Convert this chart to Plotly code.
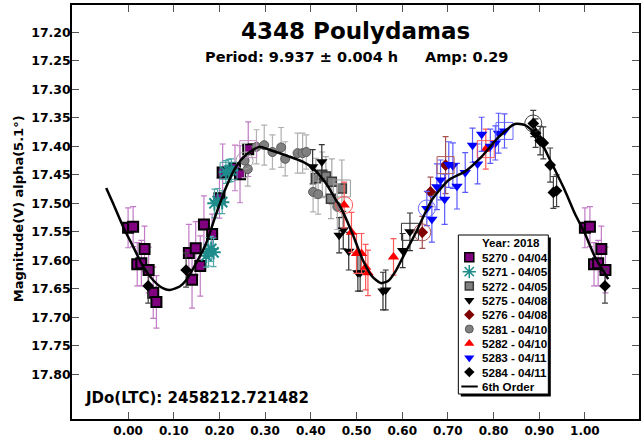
import plotly.graph_objects as go

# ---------------- data ----------------
TITLE = "4348 Poulydamas"
PERIOD_TXT = "Period: 9.937 ± 0.004 h"
AMP_TXT = "Amp: 0.29"
JD_TXT = "JDo(LTC): 2458212.721482"
Y_TITLE = "Magnitude(V) alpha(5.1°)"
LEGEND_TITLE = "Year: 2018"
FIT_NAME = "6th Order"

SERIES_NAMES = ["5270 - 04/04", "5271 - 04/05", "5272 - 04/05", "5275 - 04/08",
                "5276 - 04/08", "5281 - 04/10", "5282 - 04/10", "5283 - 04/11",
                "5284 - 04/11"]

PH_5270 = [0.000, 0.011, 0.020, 0.029, 0.036, 0.045, 0.055, 0.062, 0.133, 0.140, 0.148,
           0.158, 0.166, 0.184, 0.200, 0.207, 0.234, 0.245, 0.263,
           1.000, 1.011, 1.020, 1.029, 1.036, 1.045]
MAG_5270 = [17.543, 17.541, 17.607, 17.605, 17.580, 17.617, 17.657, 17.673, 17.587, 17.634,
            17.579, 17.610, 17.537, 17.554, 17.491, 17.446, 17.438, 17.449, 17.405,
            17.543, 17.541, 17.607, 17.605, 17.580, 17.617]
ERR_5270 = [0.035, 0.035, 0.038, 0.040, 0.040, 0.040, 0.045, 0.046, 0.050, 0.050, 0.047,
            0.053, 0.050, 0.035, 0.035, 0.050, 0.040, 0.050, 0.048,
            0.035, 0.035, 0.038, 0.040, 0.040, 0.040]

PH_5271 = [0.171, 0.176, 0.182, 0.187, 0.189, 0.196, 0.206, 0.214, 0.220, 0.226]
MAG_5271 = [17.592, 17.585, 17.580, 17.586, 17.500, 17.496, 17.498, 17.445, 17.443, 17.442]
ERR_5271 = [0.020, 0.025, 0.022, 0.025, 0.025, 0.022, 0.020, 0.020, 0.020, 0.020]

PH_5272 = [0.411, 0.425, 0.433, 0.444, 0.446, 0.468]
MAG_5272 = [17.456, 17.450, 17.453, 17.492, 17.462, 17.474]
ERR_5272 = [0.035, 0.040, 0.035, 0.035, 0.040, 0.050]

PH_5275 = [0.404, 0.424, 0.462, 0.471, 0.483, 0.503, 0.508, 0.558, 0.564, 0.601, 0.617]
MAG_5275 = [17.436, 17.427, 17.556, 17.547, 17.584, 17.622, 17.622, 17.654, 17.652, 17.583, 17.550]
ERR_5275 = [0.030, 0.030, 0.031, 0.033, 0.033, 0.032, 0.032, 0.033, 0.035, 0.030, 0.033]

PH_5276 = [0.644, 0.662, 0.695]
MAG_5276 = [17.551, 17.480, 17.433]
ERR_5276 = [0.028, 0.026, 0.050]

PH_5281 = [0.255, 0.262, 0.281, 0.298, 0.316, 0.335, 0.344, 0.371, 0.382, 0.390, 0.405, 0.416, 0.458]
MAG_5281 = [17.425, 17.440, 17.401, 17.398, 17.410, 17.402, 17.422, 17.412, 17.412, 17.410,
            17.480, 17.484, 17.506]
ERR_5281 = [0.030, 0.030, 0.030, 0.035, 0.030, 0.035, 0.030, 0.035, 0.035, 0.030, 0.035, 0.035, 0.040]

PH_5282 = [0.473, 0.489, 0.500, 0.511, 0.520, 0.525, 0.581, 0.783]
MAG_5282 = [17.503, 17.551, 17.588, 17.588, 17.612, 17.622, 17.594, 17.405]
ERR_5282 = [0.040, 0.035, 0.035, 0.035, 0.040, 0.040, 0.032, 0.035]

PH_5283 = [0.654, 0.665, 0.676, 0.684, 0.693, 0.702, 0.711, 0.720, 0.738, 0.754, 0.765,
           0.774, 0.793, 0.804, 0.811, 0.824]
MAG_5283 = [17.509, 17.528, 17.471, 17.459, 17.493, 17.432, 17.434, 17.470, 17.446, 17.398,
            17.431, 17.379, 17.400, 17.394, 17.377, 17.373]
ERR_5283 = [0.030, 0.040, 0.040, 0.035, 0.044, 0.040, 0.040, 0.040, 0.035, 0.030, 0.035,
            0.030, 0.030, 0.030, 0.035, 0.030]

PH_5284 = [0.044, 0.127, 0.887, 0.892, 0.902, 0.909, 0.924, 0.931, 0.938, 1.044]
MAG_5284 = [17.645, 17.617, 17.360, 17.377, 17.390, 17.394, 17.433, 17.481, 17.478, 17.645]
ERR_5284 = [0.030, 0.030, 0.023, 0.025, 0.025, 0.028, 0.030, 0.028, 0.028, 0.030]

# open rings drawn around some points (series index -> point index)
RING_CIRCLE = {4: 0, 5: 0, 6: 0, 7: 0, 8: 2}
RING_SQUARE = {0: 18, 1: 8, 2: 5, 3: 10, 4: 2, 6: 7, 7: 15}

# 6th-order Fourier fit curve
FIT_PH = [-0.048, -0.033, -0.011, 0.011, 0.033, 0.055, 0.076, 0.091, 0.113, 0.127, 0.149,
          0.171, 0.193, 0.215, 0.236, 0.258, 0.287, 0.309, 0.353, 0.382, 0.404, 0.433,
          0.455, 0.466, 0.491, 0.513, 0.534, 0.553, 0.570, 0.585, 0.600, 0.629, 0.665,
          0.702, 0.738, 0.774, 0.811, 0.847, 0.869, 0.898, 0.920, 0.956, 0.978, 1.000,
          1.022, 1.051]
FIT_MAG = [17.473, 17.500, 17.541, 17.576, 17.611, 17.635, 17.649, 17.652, 17.646, 17.635,
           17.605, 17.570, 17.518, 17.471, 17.436, 17.415, 17.401, 17.406, 17.418, 17.427,
           17.438, 17.465, 17.494, 17.508, 17.553, 17.598, 17.628, 17.640, 17.636, 17.620,
           17.597, 17.553, 17.494, 17.459, 17.444, 17.418, 17.384, 17.361, 17.363, 17.383,
           17.418, 17.477, 17.518, 17.553, 17.594, 17.633]

Y_TICKS = [17.20, 17.25, 17.30, 17.35, 17.40, 17.45, 17.50, 17.55, 17.60, 17.65, 17.70, 17.75, 17.80]
X_TICKS = [0.0, 0.1, 0.2, 0.3, 0.4, 0.5, 0.6, 0.7, 0.8, 0.9, 1.0]

# ---------------- styles ----------------
STYLES = [
    dict(symbol="square", size=10, color="#800080", lc="black", lw=2, err="#C27BC6", ring="#C88AC8"),
    dict(symbol="asterisk-open", size=12, color="#1F8C8C", lc="#1F8C8C", lw=2, err="#4FA8A8", ring="#3FA0A0"),
    dict(symbol="square", size=9, color="#808080", lc="#3A3A3A", lw=1.5, err="#A8A8A8", ring="#9A9A9A"),
    dict(symbol="triangle-down", size=10, color="black", lc="black", lw=0, err="#333333", ring="#333333"),
    dict(symbol="diamond", size=9, color="#7F0000", lc="#7F0000", lw=0, err="#A65050", ring="#B05A5A"),
    dict(symbol="circle", size=9, color="#808080", lc="#5A5A5A", lw=1, err="#B0B0B0", ring="#A0A0A0"),
    dict(symbol="triangle-up", size=10, color="#FF0000", lc="#FF0000", lw=0, err="#FF5A5A", ring="#FF5A5A"),
    dict(symbol="triangle-down", size=10, color="#0000FF", lc="#0000FF", lw=0, err="#5A5AFF", ring="#6A6AFF"),
    dict(symbol="diamond", size=9, color="black", lc="black", lw=0, err="#404040", ring="#404040"),
]

SERIES = [
    (PH_5270, MAG_5270, ERR_5270), (PH_5271, MAG_5271, ERR_5271), (PH_5272, MAG_5272, ERR_5272),
    (PH_5275, MAG_5275, ERR_5275), (PH_5276, MAG_5276, ERR_5276), (PH_5281, MAG_5281, ERR_5281),
    (PH_5282, MAG_5282, ERR_5282), (PH_5283, MAG_5283, ERR_5283), (PH_5284, MAG_5284, ERR_5284),
]

W, H = 641, 440
ML, MR, MT, MB = 72, 0, 5, 21
PW, PH = W - ML - MR, H - MT - MB
PX_PER_PHASE = 458.4
PX_PER_MAG = 570.0
X0_PX = 128.3        # pixel of phase 0.00
Y0_PX = 32.3         # pixel of mag 17.20

x_lo = (ML - X0_PX) / PX_PER_PHASE
x_hi = x_lo + PW / PX_PER_PHASE
y_top = 17.20 - (Y0_PX - MT) / PX_PER_MAG
y_bot = y_top + PH / PX_PER_MAG

BOLD_DV = "DejaVu Sans"
BOLD_AR = "Liberation Sans, Arial"


def paper(xp, yp):
    return (xp - ML) / PW, (MT + PH - yp) / PH


fig = go.Figure()

# data traces
for i, (xs, ys, es) in enumerate(SERIES):
    st = STYLES[i]
    fig.add_trace(go.Scatter(
        x=xs, y=ys, mode="markers", name=SERIES_NAMES[i], showlegend=False,
        marker=dict(symbol=st["symbol"], size=st["size"], color=st["color"],
                    line=dict(color=st["lc"], width=st["lw"])),
        error_y=dict(type="data", array=es, visible=True, color=st["err"],
                     thickness=1.2, width=3),
        cliponaxis=True))

# open rings
for i, (xs, ys, es) in enumerate(SERIES):
    st = STYLES[i]
    for ring_map, sym in ((RING_CIRCLE, "circle-open"), (RING_SQUARE, "square-open")):
        if i in ring_map:
            k = ring_map[i]
            fig.add_trace(go.Scatter(
                x=[xs[k]], y=[ys[k]], mode="markers", showlegend=False, hoverinfo="skip",
                marker=dict(symbol=sym, size=17, color=st["ring"],
                            line=dict(color=st["ring"], width=1))))

# fit curve
fig.add_trace(go.Scatter(x=FIT_PH, y=FIT_MAG, mode="lines", name=FIT_NAME, showlegend=False,
                         line=dict(color="black", width=2.5, shape="spline", smoothing=0.6)))

# ---------------- custom legend (small inset axes in pixel units) ----------------
LX0, LX1, LY0, LY1 = 459.7, 550.0, 235.0, 394.0
PAD = 5
ax_x0, ax_x1 = LX0 - PAD, LX1 + PAD
ax_y0, ax_y1 = LY0 - PAD, LY1 + PAD
dx0, _ = paper(ax_x0, 0)
dx1, _ = paper(ax_x1, 0)
_, dy0 = paper(0, ax_y1)
_, dy1 = paper(0, ax_y0)

SYM_X = 470.7
TXT_X = 481.2
TITLE_Y = 242.7
ROW0_Y = 257.3
ROW_DY = 14.35

for i, st in enumerate(STYLES):
    fig.add_trace(go.Scatter(
        x=[SYM_X], y=[ROW0_Y + i * ROW_DY], xaxis="x2", yaxis="y2", mode="markers",
        showlegend=False, hoverinfo="skip",
        marker=dict(symbol=st["symbol"], size=st["size"] - 1, color=st["color"],
                    line=dict(color=st["lc"], width=min(st["lw"], 1.5)))))
fit_row_y = ROW0_Y + len(STYLES) * ROW_DY
fig.add_trace(go.Scatter(x=[LX0 + 3, TXT_X - 2], y=[fit_row_y, fit_row_y], xaxis="x2", yaxis="y2",
                         mode="lines", showlegend=False, hoverinfo="skip",
                         line=dict(color="black", width=2)))

shapes = [
    dict(type="rect", xref="x2", yref="y2", x0=LX0 + 2.5, x1=LX1 + 2.5, y0=LY0 + 2.5, y1=LY1 + 2.5,
         fillcolor="black", line=dict(width=0), layer="below"),
    dict(type="rect", xref="x2", yref="y2", x0=LX0, x1=LX1, y0=LY0, y1=LY1,
         fillcolor="white", line=dict(color="black", width=1), layer="below"),
]

annotations = []
leg_font = dict(family=BOLD_AR, size=11.6, color="black", weight="bold")
annotations.append(dict(xref="x2", yref="y2", x=TXT_X, y=TITLE_Y, text=LEGEND_TITLE,
                        xanchor="left", yanchor="middle", showarrow=False, font=leg_font))
for i, nm in enumerate(SERIES_NAMES + [FIT_NAME]):
    annotations.append(dict(xref="x2", yref="y2", x=TXT_X, y=ROW0_Y + i * ROW_DY, text=nm,
                            xanchor="left", yanchor="middle", showarrow=False, font=leg_font))

# titles and other texts
tx, ty = paper(356.7, 31.5)
annotations.append(dict(xref="paper", yref="paper", x=tx, y=ty, text=TITLE, showarrow=False,
                        xanchor="center", yanchor="middle",
                        font=dict(family=BOLD_DV, size=23, color="black", weight="bold")))
tx, ty = paper(302.5, 56.5)
annotations.append(dict(xref="paper", yref="paper", x=tx, y=ty, text=PERIOD_TXT, showarrow=False,
                        xanchor="center", yanchor="middle",
                        font=dict(family=BOLD_DV, size=14.5, color="black", weight="bold")))
tx, ty = paper(468.0, 56.5)
annotations.append(dict(xref="paper", yref="paper", x=tx, y=ty, text=AMP_TXT, showarrow=False,
                        xanchor="center", yanchor="middle",
                        font=dict(family=BOLD_DV, size=14.5, color="black", weight="bold")))
tx, ty = paper(83.0, 398.3)
annotations.append(dict(xref="paper", yref="paper", x=tx, y=ty, text=JD_TXT, showarrow=False,
                        xanchor="left", yanchor="middle",
                        font=dict(family=BOLD_DV, size=15, color="black", weight="bold")))
tx, ty = paper(18.0, 209.0)
annotations.append(dict(xref="paper", yref="paper", x=tx, y=ty, text=Y_TITLE, showarrow=False,
                        xanchor="center", yanchor="middle", textangle=-90,
                        font=dict(family=BOLD_DV, size=13, color="black", weight="bold")))

tick_font_y = dict(family=BOLD_DV, size=12.5, color="black", weight="bold")
tick_font_x = dict(family=BOLD_DV, size=12, color="black", weight="bold")

fig.update_layout(
    width=W, height=H,
    margin=dict(l=ML, r=MR, t=MT, b=MB, pad=0),
    paper_bgcolor="white", plot_bgcolor="white",
    showlegend=False,
    xaxis=dict(range=[x_lo, x_hi], tickmode="array", tickvals=X_TICKS,
               ticktext=[f"{v:.2f}" for v in X_TICKS],
               ticks="inside", ticklen=7, tickwidth=1, tickcolor="#555555",
               showline=True, linecolor="black", linewidth=2, mirror="ticks",
               showgrid=False, zeroline=False, tickfont=tick_font_x),
    yaxis=dict(range=[y_bot, y_top], tickmode="array", tickvals=Y_TICKS,
               ticktext=[f"{v:.2f}" for v in Y_TICKS],
               ticks="inside", ticklen=7, tickwidth=1, tickcolor="#555555",
               showline=True, linecolor="black", linewidth=1.5, mirror="ticks",
               showgrid=False, zeroline=False, tickfont=tick_font_y,
               ticklabelstandoff=-3),
    xaxis2=dict(domain=[dx0, dx1], range=[ax_x0, ax_x1], anchor="y2", visible=False,
                fixedrange=True),
    yaxis2=dict(domain=[dy0, dy1], range=[ax_y1, ax_y0], anchor="x2", visible=False,
                fixedrange=True),
    shapes=shapes,
    annotations=annotations,
)

fig.write_html("out.html",
               config={"displayModeBar": False},
               post_script="document.body.style.margin='0px';document.body.style.overflow='hidden';")
